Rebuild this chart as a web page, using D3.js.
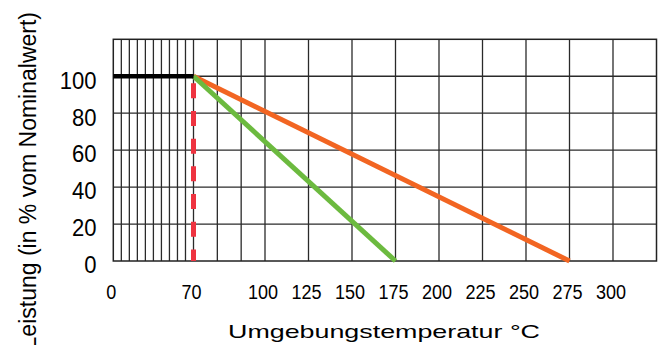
<!DOCTYPE html>
<html><head><meta charset="utf-8">
<script src="https://cdn.jsdelivr.net/npm/d3@7/dist/d3.min.js"></script>
<style>body{margin:0;background:#fff}svg{display:block}text{font-family:"Liberation Sans",Arial,sans-serif;fill:#000}</style>
</head><body><svg id="c" width="658" height="345"></svg>
<script>
const xTickLabels = [0, 70, 100, 125, 150, 175, 200, 225, 250, 275, 300];
const xGridLines = [7,14,21,28,35,42,49,56,63,70,80,90,100,125,150,175,200,225,250,275,300];
const yTickLabels = [0, 20, 40, 60, 80, 100];
const yGridLines = [20, 40, 60, 80, 100];
const blackLine = [[0,100],[70,100]];
const greenLine = [[70,100],[175,0]];
const orangeLine = [[70,100],[275,0]];
const redDashed = [[70,100],[70,0]];

const svg = d3.select("#c");
const x = d3.scaleLinear().domain([0,70,100,325]).range([113.3,193.5,265,656.5]);
const y = d3.scaleLinear().domain([0,120]).range([261,39.3]);

// grid
svg.append("g").selectAll("line").data(xGridLines).join("line")
  .attr("x1",d=>x(d)).attr("x2",d=>x(d)).attr("y1",y(0)).attr("y2",y(120))
  .attr("stroke","#2a2a2a").attr("stroke-width",1.3);
svg.append("g").selectAll("line").data(yGridLines).join("line")
  .attr("x1",x(0)).attr("x2",x(325)).attr("y1",d=>y(d)).attr("y2",d=>y(d))
  .attr("stroke","#2a2a2a").attr("stroke-width",1.3);
svg.append("rect").attr("x",x(0)).attr("y",y(120)).attr("width",x(325)-x(0)).attr("height",y(0)-y(120))
  .attr("fill","none").attr("stroke","#222").attr("stroke-width",1.5);

const line = d3.line().x(d=>x(d[0])).y(d=>y(d[1]));
svg.append("path").attr("d",line(orangeLine)).attr("stroke","#f26522").attr("stroke-width",5).attr("fill","none");
svg.append("path").attr("d",line(greenLine)).attr("stroke","#6cba3f").attr("stroke-width",5).attr("fill","none");
svg.append("path").attr("d",line(blackLine)).attr("stroke","#000").attr("stroke-width",4.5).attr("fill","none");
svg.append("path").attr("d",line(redDashed)).attr("stroke","#ee3340").attr("stroke-width",5).attr("fill","none")
  .attr("stroke-dasharray","15,12.7").attr("stroke-dashoffset",-7);

// y tick labels
svg.append("g").selectAll("text").data(yTickLabels).join("text")
  .attr("transform",d=>`translate(96.5,${y(d)+12.3}) scale(0.92,1)`)
  .attr("text-anchor","end").attr("font-size",24).text(d=>d);
// x tick labels
svg.append("g").selectAll("text").data(xTickLabels).join("text")
  .attr("transform",d=>`translate(${x(d)-2},299) scale(0.86,1)`)
  .attr("text-anchor","middle").attr("font-size",21).text(d=>d);

svg.append("text").attr("x",228).attr("y",338.3).attr("font-size",18.5)
  .attr("textLength",312).attr("lengthAdjust","spacingAndGlyphs")
  .text("Umgebungstemperatur °C");
svg.append("text").attr("transform","translate(36,12) rotate(-90)").attr("text-anchor","end").attr("font-size",23)
  .text("Leistung (in % vom Nominalwert)");
</script></body></html>
